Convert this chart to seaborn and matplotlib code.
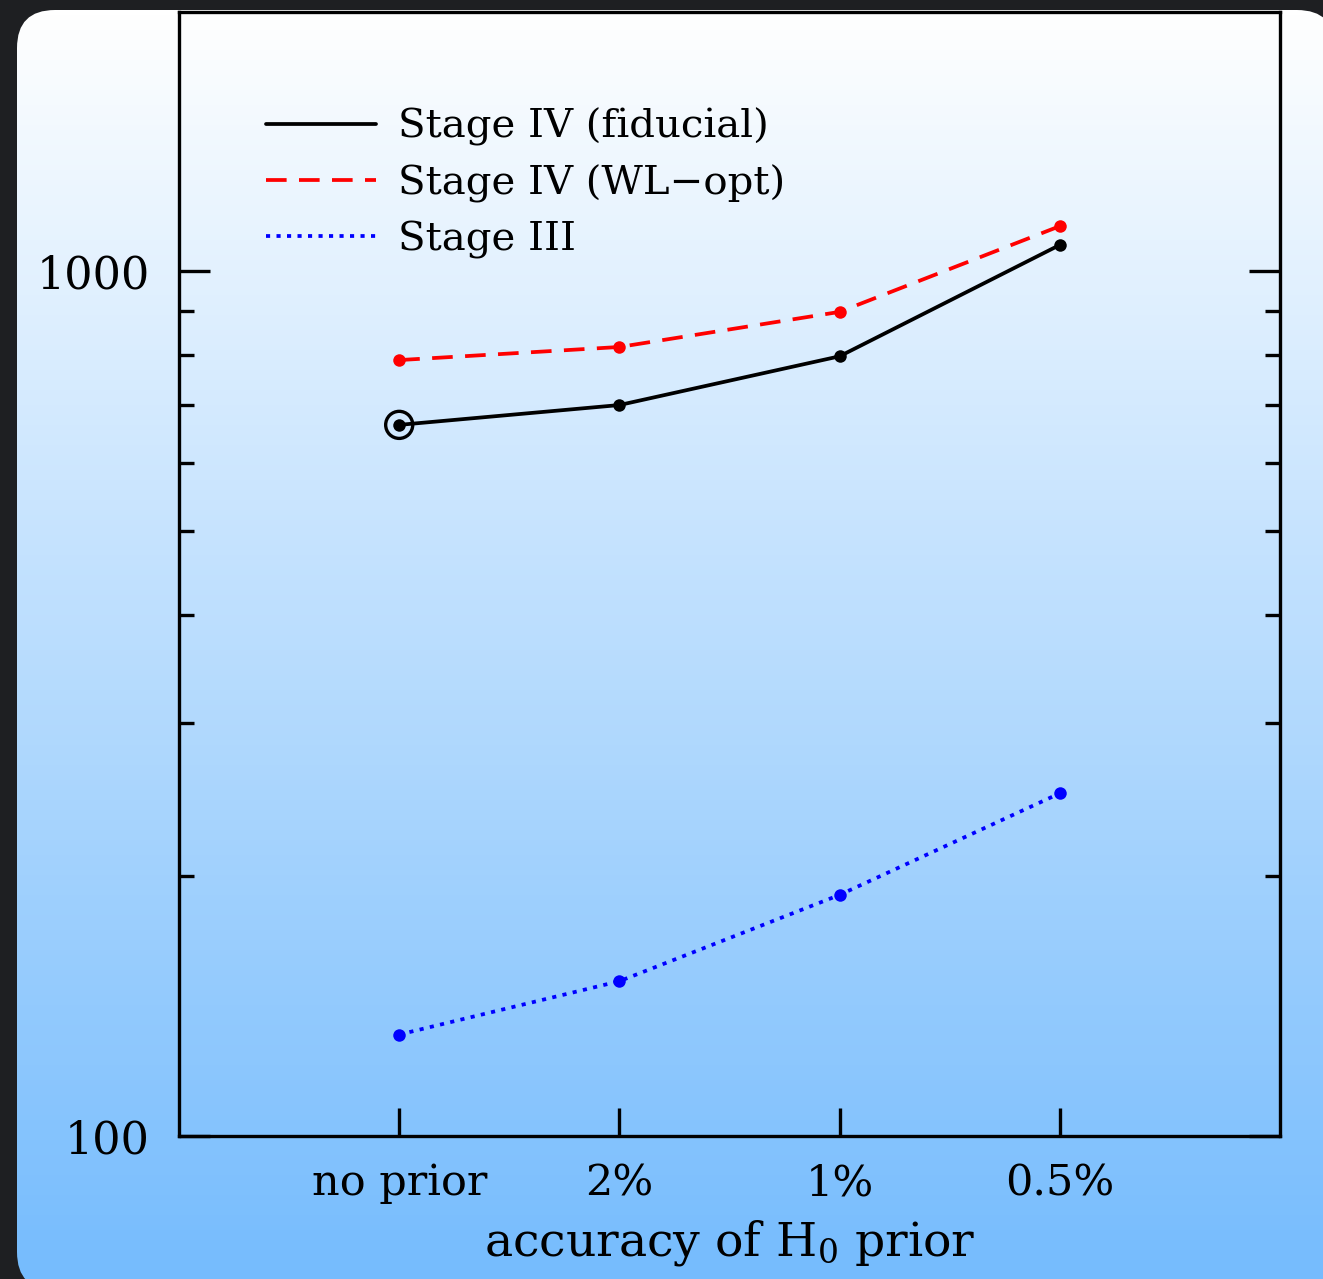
import numpy as np
import pandas as pd
import matplotlib
matplotlib.use("Agg")
import matplotlib.pyplot as plt
import seaborn as sns
from matplotlib.patches import FancyBboxPatch
from matplotlib.lines import Line2D
from matplotlib.colors import LinearSegmentedColormap
from matplotlib.ticker import LogLocator, NullFormatter, FixedLocator, FixedFormatter

# ---- data ----
categories = ["no prior", "2%", "1%", "0.5%"]
stage4_fiducial = [664, 700, 797, 1072]
stage4_wlopt = [789, 817, 897, 1127]
stage3 = [131, 151, 190, 249]
series_names = ["Stage IV (fiducial)", "Stage IV (WL\u2212opt)", "Stage III"]
ytick_values = [100, 1000]
ytick_labels = ["100", "1000"]

sns.set_theme(style="ticks")
plt.rcParams["font.family"] = ["DejaVu Serif"]
plt.rcParams["mathtext.fontset"] = "dejavuserif"
plt.rcParams["text.color"] = "black"
plt.rcParams["axes.labelcolor"] = "black"
plt.rcParams["xtick.color"] = "black"
plt.rcParams["ytick.color"] = "black"

W, H = 1323, 1279
fig = plt.figure(figsize=(W / 100, H / 100), dpi=100)
fig.patch.set_facecolor("#1e1f22")

# background rounded gradient panel
bg = fig.add_axes([0, 0, 1, 1])
bg.axis("off")
cmap = LinearSegmentedColormap.from_list("g", ["#ffffff", "#74bbfd"])
grad = np.linspace(0, 1, 256).reshape(-1, 1)
panel = FancyBboxPatch((17, 10), 1318, 1280, boxstyle="round,pad=0,rounding_size=38",
                       transform=bg.transData, facecolor="none", edgecolor="none")
bg.add_patch(panel)
im = bg.imshow(grad, extent=[17, 1335, 1290, 10], aspect="auto", cmap=cmap, zorder=0)
im.set_clip_path(panel)
bg.set_xlim(0, W)
bg.set_ylim(H, 0)

# main axes
ax = fig.add_axes([179 / W, 1 - 1136 / H, (1280 - 179) / W, (1136 - 12) / H])
ax.patch.set_alpha(0)

x = np.arange(len(categories))
df = pd.DataFrame({
    "x": np.tile(x, 3),
    "value": stage4_fiducial + stage4_wlopt + stage3,
    "series": np.repeat(series_names, len(categories)),
})

colors = {series_names[0]: "black", series_names[1]: "#ff0000", series_names[2]: "#0000ff"}
styles = {series_names[0]: "-", series_names[1]: (0, (5.5, 3.3)), series_names[2]: (0, (1.1, 1.7))}
lw = 2.7
for name in series_names:
    sub = df[df["series"] == name]
    sns.lineplot(data=sub, x="x", y="value", color=colors[name], lw=lw, ax=ax,
                 marker="o", markersize=9, markeredgewidth=0, dashes=False,
                 linestyle=styles[name], legend=False, zorder=3)

# highlight circle around fiducial no-prior point
sns.scatterplot(x=[x[0]], y=[stage4_fiducial[0]], s=380, marker="o", facecolors="none",
                edgecolor="black", linewidth=2.4, ax=ax, zorder=4, legend=False)

ax.set_yscale("log")
ax.set_xlim(-1, 4)
ax.set_ylim(100, 1993)
ax.yaxis.set_major_locator(FixedLocator(ytick_values))
ax.yaxis.set_major_formatter(FixedFormatter(ytick_labels))
ax.yaxis.set_minor_locator(LogLocator(base=10, subs=np.arange(2, 10)))
ax.yaxis.set_minor_formatter(NullFormatter())
ax.set_xticks(x)
ax.set_xticklabels(categories)

for sp in ax.spines.values():
    sp.set_linewidth(2.4)
    sp.set_color("black")
ax.tick_params(axis="y", which="major", direction="in", left=True, right=True,
               length=22, width=2.4, labelsize=32, pad=21)
ax.tick_params(axis="y", which="minor", direction="in", left=True, right=True,
               length=11, width=2.4)
ax.tick_params(axis="x", which="major", direction="in", bottom=True, top=False,
               length=20, width=2.4, labelsize=31, pad=19)
ax.tick_params(axis="x", which="minor", bottom=False, top=False)
ax.set_xlabel("accuracy of H$_0$ prior", fontsize=34, labelpad=10)
ax.set_ylabel("")

handles = [Line2D([], [], color=colors[n], lw=lw, linestyle=styles[n]) for n in series_names]
leg = ax.legend(handles, series_names, loc="upper left", bbox_to_anchor=(0.064, 0.929),
                frameon=False, fontsize=29, handlelength=2.75, handletextpad=0.55,
                labelspacing=0.45, borderaxespad=0)

fig.savefig("out.png", dpi=100, facecolor=fig.get_facecolor())
